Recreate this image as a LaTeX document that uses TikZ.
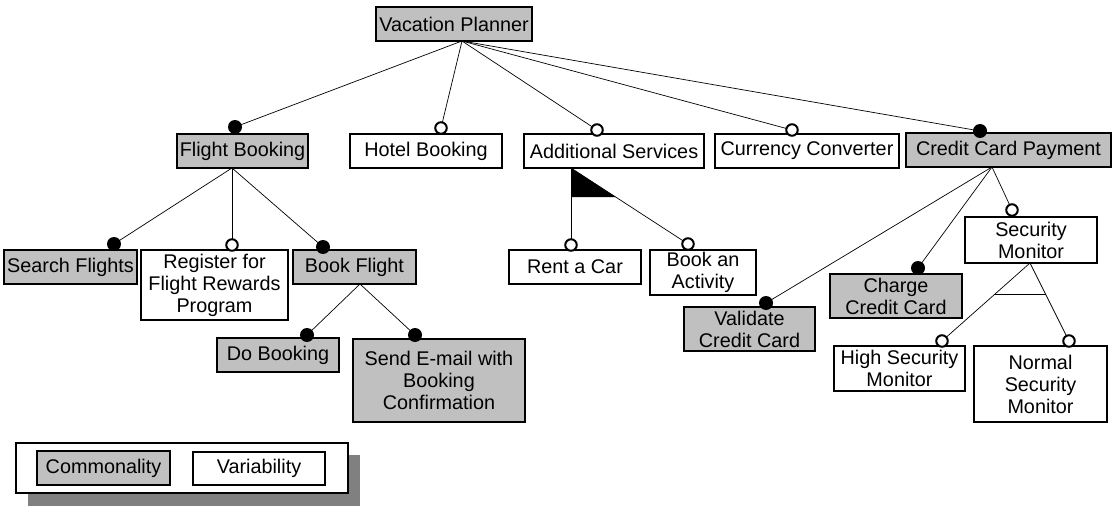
\documentclass[tikz,border=0pt]{standalone}
\usepackage{fontspec}
\setmainfont{Liberation Sans}
\usetikzlibrary{calc}
\definecolor{boxgrey}{HTML}{C0C0C0}
\definecolor{shadowgrey}{HTML}{808080}
\begin{document}
\begin{tikzpicture}[x=1pt,y=-1pt,
 feat/.style={draw, line width=1.1pt, inner sep=0pt, outer sep=0pt, anchor=north west, align=center, font=\fontsize{19.8}{22}\selectfont},
 com/.style={feat, fill=boxgrey},
 vary/.style={feat, fill=white},
 conn/.style={line width=0.7pt},
 mand/.style={circle, fill=black, inner sep=0pt, minimum size=14pt},
 opt/.style={circle, draw, fill=white, line width=2pt, minimum size=11.5pt, inner sep=0pt},
]
\useasboundingbox (0,0) rectangle (1119,513);
% parent anchor points
\coordinate (vpb) at (462,41);
\coordinate (fbb) at (232,168);
\coordinate (bfb) at (360,284);
\coordinate (asb) at (571,168);
\coordinate (ccpb) at (992,167);
\coordinate (smb) at (1030,263);
% circle centres
\coordinate (pFB) at (235,127);
\coordinate (pHB) at (441,128);
\coordinate (pAS) at (597,130);
\coordinate (pCC) at (792,130);
\coordinate (pCCP) at (980,131);
\coordinate (pSF) at (114,244);
\coordinate (pRG) at (232,245);
\coordinate (pBF) at (323,247);
\coordinate (pDB) at (307,335);
\coordinate (pSE) at (415,335);
\coordinate (pRC) at (571,245);
\coordinate (pBA) at (688,244);
\coordinate (pVC) at (766,303);
\coordinate (pCH) at (918,268);
\coordinate (pSM) at (1012,210);
\coordinate (pHS) at (942,341);
\coordinate (pNS) at (1069,341);
% connectors
\foreach \c in {pFB,pHB,pAS,pCC,pCCP} \draw[conn] (vpb) -- (\c);
\foreach \c in {pSF,pRG,pBF} \draw[conn] (fbb) -- (\c);
\foreach \c in {pDB,pSE} \draw[conn] (bfb) -- (\c);
\foreach \c in {pRC,pBA} \draw[conn] (asb) -- (\c);
\foreach \c in {pVC,pCH,pSM} \draw[conn] (ccpb) -- (\c);
\foreach \c in {pHS,pNS} \draw[conn] (smb) -- (\c);
% or-group flag
\coordinate (flagd) at ($(asb)!0.3816!(pBA)$);
\coordinate (flagc) at (asb |- flagd);
\fill (asb) -- (flagc) -- (flagd) -- cycle;
% alternative-group bar
\coordinate (altl) at ($(smb)!0.405!(pHS)$);
\coordinate (altr) at ($(smb)!0.405!(pNS)$);
\draw[conn] (altl) -- (altr);
% features
\node[com, minimum width=156pt, minimum height=34pt] (vp) at (376,7) {Vacation Planner};
\node[com, minimum width=131pt, minimum height=34pt] (fb) at (177,134) {Flight Booking};
\node[vary, minimum width=152pt, minimum height=34pt] (hb) at (350,134) {Hotel Booking};
\node[vary, minimum width=180pt, minimum height=34pt] (as) at (524,134) {Additional Services};
\node[vary, minimum width=184pt, minimum height=34pt] (cc) at (715,134) {Currency Converter};
\node[com, minimum width=205pt, minimum height=34pt] (ccp) at (906,133) {Credit Card Payment};
\node[com, minimum width=133pt, minimum height=34pt] (sf) at (4,250) {Search Flights};
\node[vary, minimum width=147pt, minimum height=70pt] (rg) at (141,250) {Register for\\Flight Rewards\\Program};
\node[com, minimum width=123pt, minimum height=34pt] (bf) at (293,250) {Book Flight};
\node[com, minimum width=122pt, minimum height=34pt] (db) at (217,338) {Do Booking};
\node[com, minimum width=172pt, minimum height=83pt] (se) at (353,339) {Send E-mail with\\Booking\\Confirmation};
\node[vary, minimum width=132pt, minimum height=34pt] (rc) at (509,250) {Rent a Car};
\node[vary, minimum width=106pt, minimum height=45pt] (ba) at (650,250) {Book an\\Activity};
\node[com, minimum width=131pt, minimum height=44pt] (vc) at (684,307) {Validate\\Credit Card};
\node[com, minimum width=132pt, minimum height=44pt] (ch) at (830,274) {Charge\\Credit Card};
\node[vary, minimum width=132pt, minimum height=46pt] (sm) at (965,217) {Security\\Monitor};
\node[vary, minimum width=131pt, minimum height=45pt] (hs) at (834,346) {High Security\\Monitor};
\node[vary, minimum width=133pt, minimum height=76pt] (ns) at (974,346) {Normal\\Security\\Monitor};
% group markers
\foreach \c in {pFB,pCCP,pSF,pBF,pDB,pSE,pVC,pCH} \node[mand] at (\c) {};
\foreach \c in {pHB,pAS,pCC,pRG,pRC,pBA,pSM,pHS,pNS} \node[opt] at (\c) {};
% legend
\fill[shadowgrey] (28,455) rectangle (360,506);
\node[vary, minimum width=332pt, minimum height=50pt] (legend) at (16,443) {};
\node[com, minimum width=133pt, minimum height=34pt] (lcom) at (37,451) {Commonality};
\node[vary, minimum width=132pt, minimum height=33pt] (lvar) at (193,452) {Variability};
\end{tikzpicture}
\end{document}
